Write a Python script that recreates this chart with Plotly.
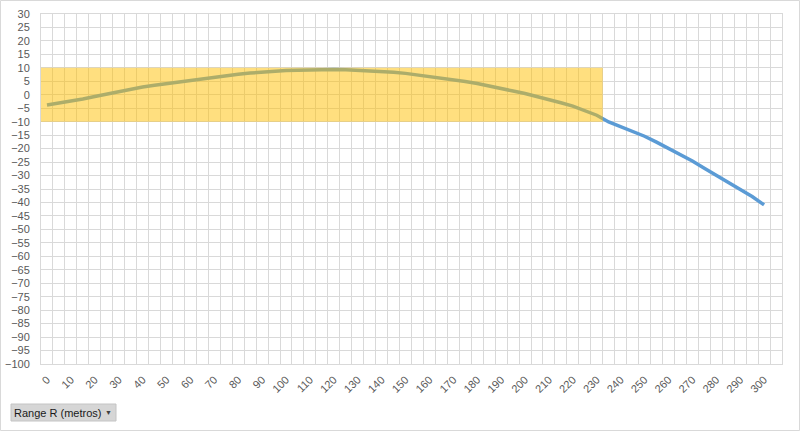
import plotly.graph_objects as go

# ---- data ----
range_r = [0, 5, 10, 15, 20, 25, 30, 35, 40, 45, 50, 55, 60, 65, 70, 75, 80, 85, 90, 95,
           100, 105, 110, 115, 120, 125, 130, 135, 140, 145, 150, 155, 160, 165, 170, 175,
           180, 185, 190, 195, 200, 205, 210, 215, 220, 225, 230, 235, 240, 245, 250, 255,
           260, 265, 270, 275, 280, 285, 290, 295, 300]
altura = [-3.8, -3.1, -2.35, -1.6, -0.65, 0.25, 1.2, 2.1, 2.85, 3.5, 4.1, 4.9, 5.5, 6.05,
          6.65, 7.15, 7.6, 8.05, 8.45, 8.75, 9.0, 9.1, 9.25, 9.35, 9.35, 9.3, 9.1, 8.95,
          8.7, 8.35, 7.95, 7.4, 6.7, 6.15, 5.65, 4.95, 4.2, 3.35, 2.45, 1.4, 0.45, -0.6,
          -1.9, -2.95, -4.2, -5.75, -7.6, -10.1, -11.85, -13.6, -15.4, -17.6, -19.9, -22.3,
          -24.6, -27.3, -29.9, -32.4, -35.1, -37.8, -40.9]
band_first_cat = 0
band_last_cat = 230
band_low = -10
band_high = 10
cat_step = 5
last_category = 305
x_tick_labels = [0, 10, 20, 30, 40, 50, 60, 70, 80, 90, 100, 110, 120, 130, 140, 150,
                 160, 170, 180, 190, 200, 210, 220, 230, 240, 250, 260, 270, 280, 290, 300]
y_min, y_max, y_step = -100, 30, 5

half = cat_step / 2
grid = "#D9D9D9"
txt = "#595959"
font_family = "Liberation Sans, Arial, sans-serif"

fig = go.Figure()
fig.add_trace(go.Scatter(
    x=range_r, y=altura, mode="lines",
    line=dict(color="#5B9BD5", width=3.5),
    hoverinfo="skip", showlegend=False))

bx0 = band_first_cat - half
bx1 = band_last_cat + half
fig.add_trace(go.Scatter(
    x=[bx0, bx1, bx1, bx0, bx0], y=[band_low, band_low, band_high, band_high, band_low],
    mode="lines", fill="toself", fillcolor="rgba(255,192,0,0.5)",
    line=dict(width=0), hoverinfo="skip", showlegend=False))

W, H = 800, 431
ml, mr, mt, mb = 41, 18, 14, 67
pw, ph = W - ml - mr, H - mt - mb

def px(xp):
    return (xp - ml) / pw

def py(yp):
    return (H - mb - yp) / ph

shapes = [
    dict(type="rect", xref="paper", yref="paper",
         x0=px(0.5), x1=px(799.5), y0=py(430.5), y1=py(0.5),
         line=dict(color="#D9D9D9", width=1), layer="below"),
    dict(type="rect", xref="paper", yref="paper",
         x0=px(11), x1=px(116), y0=py(421), y1=py(404),
         fillcolor="#D6D6D6", line=dict(color="#C4C4C4", width=1)),
]

annotations = [
    dict(xref="paper", yref="paper", x=px(13), y=py(412.5), xanchor="left", yanchor="middle",
         text="Range R (metros)", showarrow=False, borderpad=0,
         font=dict(family=font_family, size=11, color="#1A1A1A")),
    dict(xref="paper", yref="paper", x=px(108), y=py(412), xanchor="center", yanchor="middle",
         text="▼", showarrow=False, borderpad=0,
         font=dict(family=font_family, size=7, color="#404040")),
]

fig.update_layout(
    width=W, height=H,
    margin=dict(l=ml, r=mr, t=mt, b=mb, pad=0, autoexpand=False),
    paper_bgcolor="white", plot_bgcolor="white",
    font=dict(family=font_family, size=11, color=txt),
    shapes=shapes, annotations=annotations,
    xaxis=dict(
        range=[range_r[0] - half, last_category + half],
        tickmode="array", tickvals=x_tick_labels, ticktext=[str(v) for v in x_tick_labels],
        tickangle=-45, showgrid=False, zeroline=False, ticks="",
        showline=True, linecolor=grid, linewidth=1, mirror=True,
        tickfont=dict(size=11, color=txt), ticklabelstandoff=4, automargin=False,
        minor=dict(tick0=half, dtick=cat_step, showgrid=True, gridcolor=grid, gridwidth=1, ticks=""),
    ),
    yaxis=dict(
        range=[y_min, y_max], tick0=y_min, dtick=y_step,
        showgrid=True, gridcolor=grid, gridwidth=1, zeroline=False, ticks="",
        showline=True, linecolor=grid, linewidth=1, mirror=True,
        tickfont=dict(size=11, color=txt), ticklabelstandoff=8, automargin=False,
    ),
)

fig.write_html("out.html")
